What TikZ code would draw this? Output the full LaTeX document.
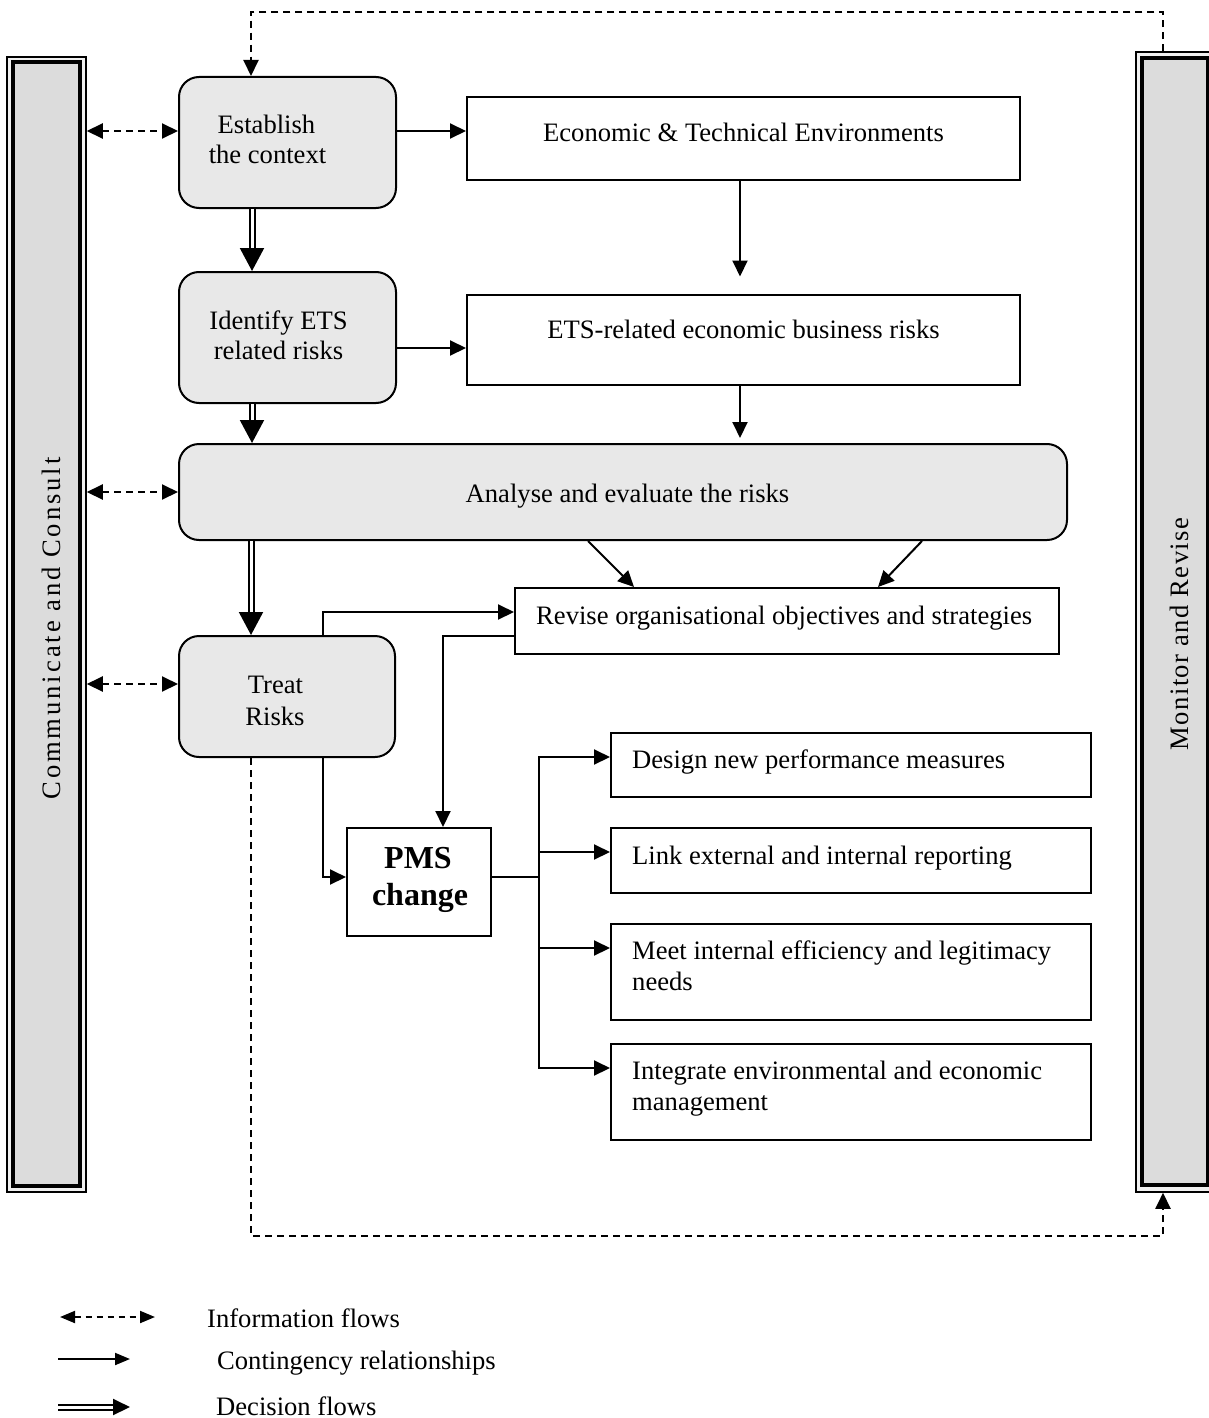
\documentclass[tikz,border=0pt]{standalone}
\usepackage{fontspec}
\setmainfont{Liberation Serif}
\newfontfamily\spacedA[LetterSpace=11]{Liberation Serif}
\newfontfamily\spacedB[LetterSpace=5.3]{Liberation Serif}
\usetikzlibrary{arrows.meta}
\definecolor{boxgray}{HTML}{E8E8E8}
\definecolor{bargray}{HTML}{DCDCDC}
\definecolor{bargap}{HTML}{F0F0F0}
\tikzset{
  ctip/.tip={Triangle[length=16pt,width=15pt]},
  ltip/.tip={Triangle[length=15pt,width=12pt]},
  dtip/.tip={Triangle[length=23pt,width=24pt]},
  dltip/.tip={Triangle[length=17pt,width=16pt]},
  box/.style={draw, line width=2pt, inner sep=0pt},
  rbox/.style={box, rounded corners=20pt, fill=boxgray},
  pbox/.style={box, fill=white},
  barout/.style={draw, line width=1.5pt, fill=bargap, inner sep=0pt},
  barin/.style={draw, line width=3.5pt, fill=bargray, inner sep=0pt},
  txt/.style={anchor=base, inner sep=0pt, font=\fontsize{26.6}{31}\selectfont},
  txtl/.style={txt, anchor=base west},
  pmstxt/.style={txt, font=\fontsize{32}{37}\selectfont\bfseries},
  cline/.style={line width=2pt},
  info/.style={line width=2pt, dash pattern=on 7pt off 5pt},
  decision/.style={double, double distance=3pt, line width=2pt},
}
\begin{document}
\begin{tikzpicture}[x=1pt,y=-1pt]
\useasboundingbox (0,0) rectangle (1209,1418);
\clip (0,0) rectangle (1209,1418);

% side bars
\node[barout, minimum width=79pt, minimum height=1135pt] (lbar) at (46.5,624.5) {};
\node[barin, minimum width=67pt, minimum height=1124pt] (lbarin) at (46.5,624) {};
\node[barout, minimum width=78pt, minimum height=1140pt] (rbar) at (1175,622) {};
\node[barin, minimum width=66pt, minimum height=1127pt] (rbarin) at (1175,621.5) {};
\node[txt, rotate=90, font=\spacedA\fontsize{26.6}{31}\selectfont] (lbarT) at (60,628.5) {Communicate and Consult};
\node[txt, rotate=90, font=\spacedB\fontsize{26.6}{31}\selectfont] (rbarT) at (1188,634) {Monitor and Revise};

% process boxes
\node[rbox, minimum width=217pt, minimum height=131pt] (est) at (287.5,142.5) {};
\node[rbox, minimum width=217pt, minimum height=131pt] (iden) at (287.5,337.5) {};
\node[rbox, minimum width=888pt, minimum height=96pt] (anal) at (623,492) {};
\node[rbox, minimum width=216pt, minimum height=121pt] (treat) at (287,696.5) {};

\node[pbox, minimum width=553pt, minimum height=83pt] (econ) at (743.5,138.5) {};
\node[pbox, minimum width=553pt, minimum height=90pt] (etsr) at (743.5,339.5) {};
\node[pbox, minimum width=544pt, minimum height=66pt] (revise) at (787,621) {};
\node[pbox, minimum width=144pt, minimum height=108pt] (pms) at (419,882) {};
\node[pbox, minimum width=480pt, minimum height=64pt] (design) at (851,765) {};
\node[pbox, minimum width=480pt, minimum height=65pt] (link) at (851,860.5) {};
\node[pbox, minimum width=480pt, minimum height=96pt] (meet) at (851,972) {};
\node[pbox, minimum width=480pt, minimum height=96pt] (integ) at (851,1092) {};

% texts
\node[txt] (estA) at (266.5,133) {Establish};
\node[txt] (estB) at (267.5,164) {the context};
\node[txt] (idA) at (278.5,329) {Identify ETS};
\node[txt] (idB) at (278.5,359) {related risks};
\node[txt] (trA) at (275.5,693) {Treat};
\node[txt] (trB) at (275,725) {Risks};
\node[txt] (econT) at (743.5,141.5) {Economic \& Technical Environments};
\node[txt] (etsT) at (743.5,338) {ETS-related economic business risks};
\node[txt] (anT) at (627.5,502) {Analyse and evaluate the risks};
\node[txtl] (revT) at (536,624) {Revise organisational objectives and strategies};
\node[pmstxt] (pmsA) at (418,868) {PMS};
\node[pmstxt] (pmsB) at (420,905) {change};
\node[txtl] (desT) at (632,768) {Design new performance measures};
\node[txtl] (linT) at (632,864) {Link external and internal reporting};
\node[txtl] (meeA) at (632,959) {Meet internal efficiency and legitimacy};
\node[txtl] (meeB) at (632,990) {needs};
\node[txtl] (intA) at (632,1079) {Integrate environmental and economic};
\node[txtl] (intB) at (632,1110) {management};

% decision flows
\draw[decision,-dtip] (est.south -| 252,0) -- (iden.north -| 252,0);
\draw[decision,-dtip] (iden.south -| 252,0) -- (anal.north -| 252,0);
\draw[decision,-dtip] (anal.south -| 251,0) -- (treat.north -| 251,0);

% information flows
\draw[info,ctip-ctip] (lbar.east |- 0,131) -- (est.west |- 0,131);
\draw[info,ctip-ctip] (lbar.east |- 0,492) -- (anal.west |- 0,492);
\draw[info,ctip-ctip] (lbar.east |- 0,684) -- (treat.west |- 0,684);
\coordinate (tl) at (251,12);
\coordinate (tr) at (1163,12);
\draw[info,-ctip] (rbar.north -| tr) -- (tr) -- (tl) -- (est.north -| tl);
\coordinate (bl) at (251,1236);
\coordinate (bR) at (1163,1236);
\draw[info,-ctip] (treat.south -| bl) -- (bl) -- (bR) -- (rbar.south -| bR);

% contingency relationships
\draw[cline,-ctip] (est.east |- 0,131) -- (econ.west |- 0,131);
\draw[cline,-ctip,shorten >=17pt] (econ.south -| 740,0) -- (etsr.north -| 740,0);
\draw[cline,-ctip] (iden.east |- 0,348) -- (etsr.west |- 0,348);
\draw[cline,-ctip,shorten >=5pt] (etsr.south -| 740,0) -- (anal.north -| 740,0);
\draw[cline,-ctip] (anal.south -| 588,0) -- (revise.north -| 634,0);
\draw[cline,-ctip] (anal.south -| 922,0) -- (revise.north -| 878,0);
\draw[cline,-ctip] (treat.north -| 323,0) |- (revise.west |- 0,612);
\draw[cline,-ctip] (revise.west |- 0,636) -| (pms.north -| 443,0);
\draw[cline,-ctip] (treat.south -| 323,0) |- (pms.west |- 0,877);
\coordinate (br) at (539,877);
\draw[cline] (pms.east |- br) -- (br);
\draw[cline,-ctip] (br) |- (design.west |- 0,757);
\draw[cline,-ctip] (br) |- (link.west |- 0,852);
\draw[cline,-ctip] (br) |- (meet.west |- 0,948);
\draw[cline,-ctip] (br) |- (integ.west |- 0,1068);

% legend
\coordinate (lg1a) at (60,1317);
\coordinate (lg1b) at (155,1317);
\draw[info,dash pattern=on 6pt off 5pt,ltip-ltip] (lg1a) -- (lg1b);
\node[txtl] (lg1T) at (207,1327) {Information flows};
\coordinate (lg2a) at (58,1359);
\coordinate (lg2b) at (130,1359);
\draw[cline,-ltip] (lg2a) -- (lg2b);
\node[txtl] (lg2T) at (217,1369) {Contingency relationships};
\coordinate (lg3a) at (58,1407);
\coordinate (lg3b) at (130,1407);
\draw[decision,-dltip] (lg3a) -- (lg3b);
\node[txtl] (lg3T) at (216,1415) {Decision flows};
\end{tikzpicture}
\end{document}
